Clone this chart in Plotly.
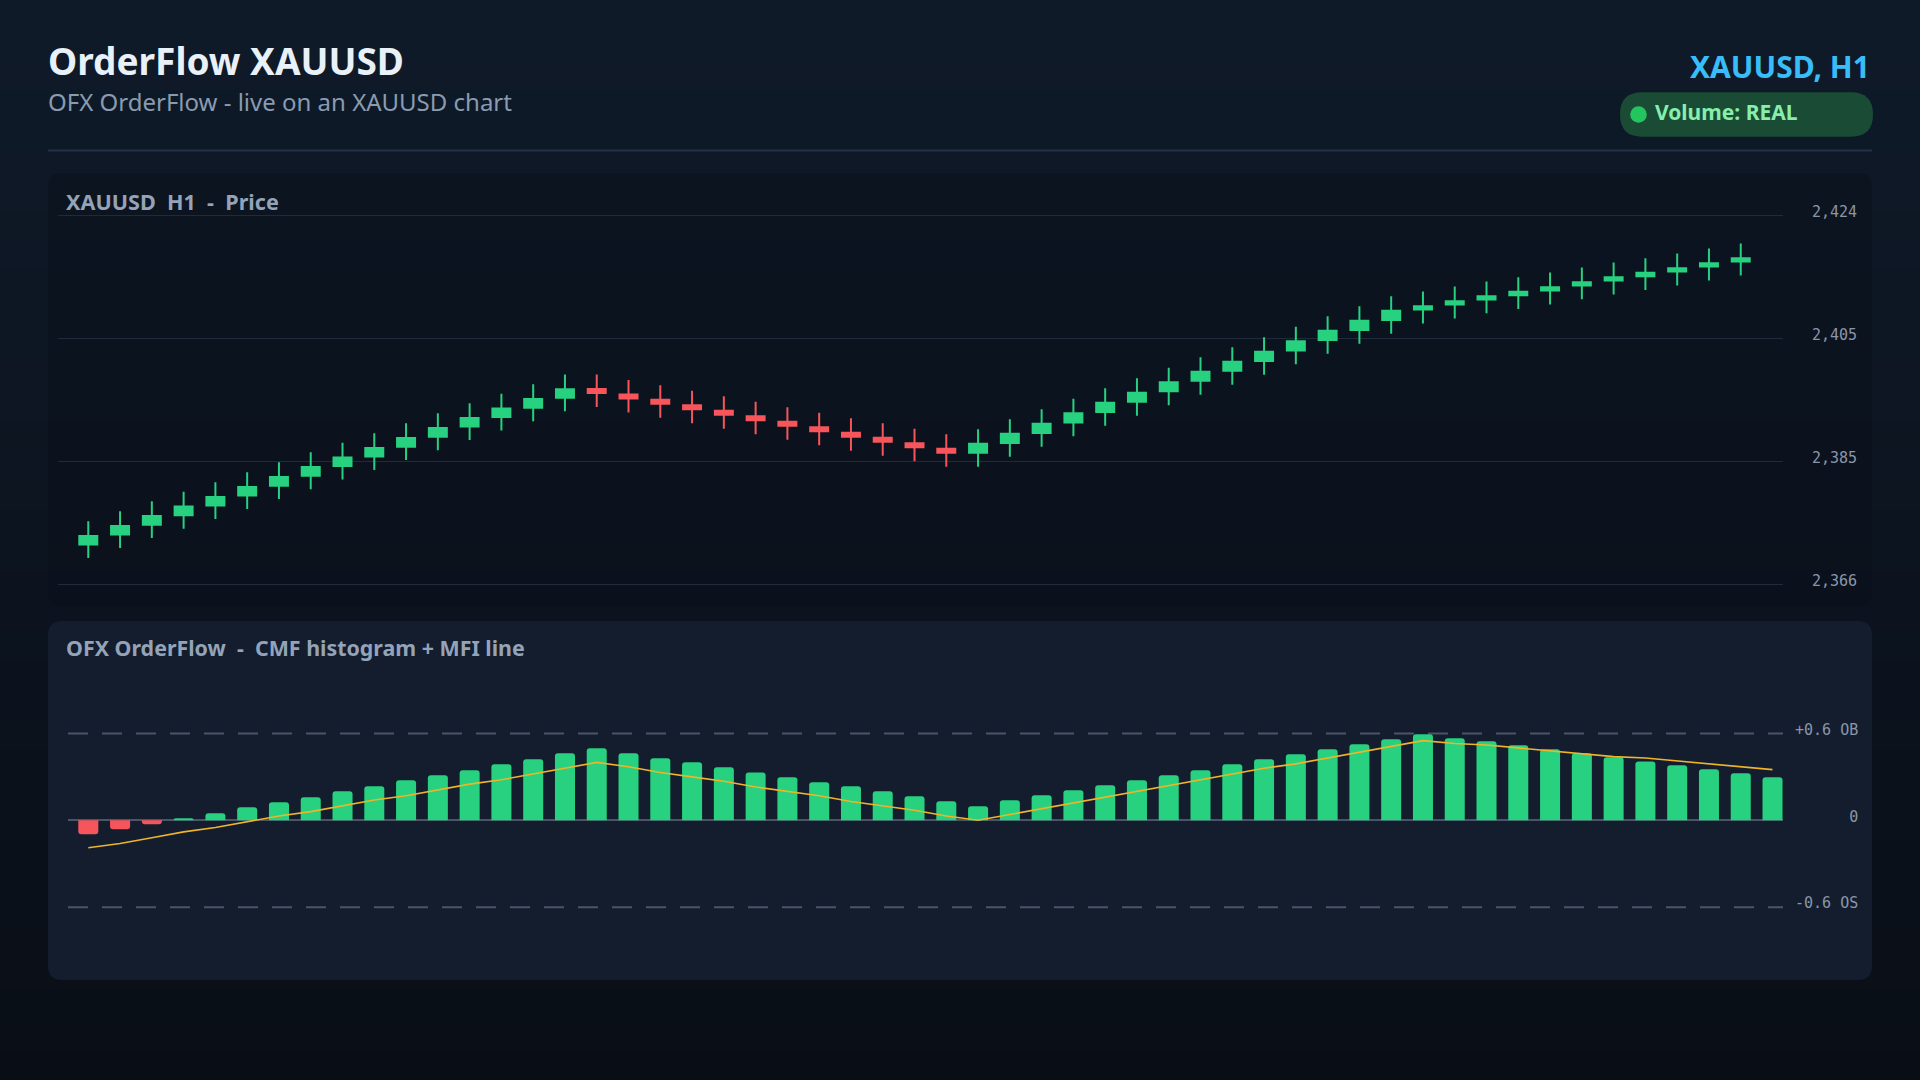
import plotly.graph_objects as go

W, H = 1920, 1080

# ---------------- data ----------------
slots = list(range(1, 55))          # 54 bar slots (histogram)
candle_x = list(range(1, 54))       # 53 candles

opens = [2372.30, 2373.87, 2375.44, 2376.93, 2378.43, 2380.00, 2381.57, 2383.14, 2384.64, 2386.13,
         2387.70, 2389.27, 2390.85, 2392.34, 2393.83, 2395.37,
         2396.76, 2395.89, 2395.06, 2394.19, 2393.33, 2392.46, 2391.60, 2390.74, 2389.87, 2389.09,
         2388.22, 2387.36,
         2386.72, 2388.29, 2389.86, 2391.51, 2393.16, 2394.74, 2396.39, 2398.04, 2399.61, 2401.18,
         2402.83, 2404.48, 2406.05, 2407.62,
         2409.26, 2410.05, 2410.84, 2411.51, 2412.25, 2413.04, 2413.82, 2414.50, 2415.24, 2416.02, 2416.81]
closes = [2373.66, 2375.23, 2376.80, 2378.29, 2379.79, 2381.36, 2382.93, 2384.50, 2386.00, 2387.49,
          2389.06, 2390.63, 2392.21, 2393.70, 2395.19, 2396.73,
          2396.14, 2395.27, 2394.44, 2393.57, 2392.71, 2391.84, 2390.98, 2390.12, 2389.25, 2388.47,
          2387.60, 2386.74,
          2388.16, 2389.73, 2391.30, 2392.95, 2394.60, 2396.18, 2397.83, 2399.48, 2401.05, 2402.62,
          2404.27, 2405.92, 2407.49, 2409.06,
          2409.78, 2410.57, 2411.36, 2412.03, 2412.77, 2413.56, 2414.34, 2415.02, 2415.76, 2416.54, 2417.33]
highs = [2375.98, 2377.55, 2379.12, 2380.61, 2382.11, 2383.68, 2385.25, 2386.82, 2388.32, 2389.81,
         2391.38, 2392.95, 2394.53, 2396.02, 2397.51, 2399.05,
         2399.05, 2398.18, 2397.35, 2396.48, 2395.62, 2394.75, 2393.89, 2393.03, 2392.16, 2391.38,
         2390.51, 2389.65,
         2390.44, 2392.01, 2393.58, 2395.23, 2396.88, 2398.46, 2400.11, 2401.76, 2403.33, 2404.90,
         2406.55, 2408.20, 2409.77, 2411.34,
         2412.07, 2412.86, 2413.65, 2414.32, 2415.06, 2415.85, 2416.63, 2417.31, 2418.05, 2418.83, 2419.62]
lows = [2370.18, 2371.75, 2373.32, 2374.81, 2376.31, 2377.88, 2379.45, 2381.02, 2382.52, 2384.01,
        2385.58, 2387.15, 2388.73, 2390.22, 2391.71, 2393.25,
        2393.95, 2393.08, 2392.25, 2391.38, 2390.52, 2389.65, 2388.79, 2387.93, 2387.06, 2386.28,
        2385.41, 2384.55,
        2384.54, 2386.11, 2387.68, 2389.33, 2390.98, 2392.56, 2394.21, 2395.86, 2397.43, 2399.00,
        2400.65, 2402.30, 2403.87, 2405.44,
        2407.07, 2407.86, 2408.65, 2409.32, 2410.06, 2410.85, 2411.63, 2412.31, 2413.05, 2413.83, 2414.62]

cmf = [-0.097, -0.062, -0.028, 0.014, 0.048, 0.090, 0.124, 0.159, 0.200, 0.235,
       0.276, 0.311, 0.345, 0.387, 0.421, 0.463, 0.497, 0.463, 0.428, 0.401,
       0.366, 0.331, 0.297, 0.262, 0.235, 0.200, 0.166, 0.131, 0.097, 0.138,
       0.173, 0.207, 0.242, 0.276, 0.311, 0.345, 0.387, 0.421, 0.456, 0.490,
       0.525, 0.559, 0.594, 0.566, 0.546, 0.518, 0.490, 0.463, 0.435, 0.407,
       0.380, 0.352, 0.325, 0.297]

mfi = [-0.19, -0.16, -0.12, -0.08, -0.05, -0.01, 0.03, 0.06, 0.10, 0.14,
       0.17, 0.21, 0.25, 0.28, 0.32, 0.36, 0.40, 0.37, 0.33, 0.30,
       0.27, 0.23, 0.20, 0.17, 0.13, 0.10, 0.07, 0.03, 0.00, 0.04,
       0.08, 0.12, 0.16, 0.20, 0.24, 0.28, 0.32, 0.36, 0.39, 0.43,
       0.47, 0.51, 0.55, 0.53, 0.52, 0.50, 0.48, 0.46, 0.44, 0.43,
       0.41, 0.39, 0.37, 0.35]

price_tickvals = [2366, 2385.333, 2404.667, 2424]
price_ticktext = ["2,366", "2,385", "2,405", "2,424"]
osc_tickvals = [-0.6, 0, 0.6]
osc_ticktext = ["-0.6 OS", "\u00a0" * 6 + "0", "+0.6 OB"]
osc_levels = [0.6, -0.6]

title_text = "OrderFlow XAUUSD"
subtitle_text = "OFX OrderFlow - live on an XAUUSD chart"
symbol_text = "XAUUSD, H1"
badge_text = "Volume: REAL"
price_panel_title = "XAUUSD\u00a0 H1\u00a0 -\u00a0 Price"
osc_panel_title = "OFX OrderFlow\u00a0 -\u00a0 CMF histogram + MFI line"

# ---------------- styles ----------------
GREEN = "#27d17f"
RED = "#f6565b"
AMBER = "#f0b429"
SANS = "Noto Sans"
MONO = "DejaVu Sans Mono"


def px(x):
    return x / W


def py(y):
    return 1 - y / H


def rrect_path(x0, y0, x1, y1, r):
    rx, ry = r / W, r / H
    X0, X1 = px(x0), px(x1)
    Y0, Y1 = py(y0), py(y1)  # Y0 top, Y1 bottom (paper)
    return (f"M {X0+rx},{Y0} L {X1-rx},{Y0} Q {X1},{Y0} {X1},{Y0-ry} "
            f"L {X1},{Y1+ry} Q {X1},{Y1} {X1-rx},{Y1} L {X0+rx},{Y1} "
            f"Q {X0},{Y1} {X0},{Y1+ry} L {X0},{Y0-ry} Q {X0},{Y0} {X0+rx},{Y0} Z")


def lerp_color(c0, c1, t):
    a = [int(c0[i:i + 2], 16) for i in (1, 3, 5)]
    b = [int(c1[i:i + 2], 16) for i in (1, 3, 5)]
    return "#" + "".join(f"{round(a[k] + (b[k] - a[k]) * t):02x}" for k in range(3))


shapes = []
# background gradient bands
NB = 36
for i in range(NB):
    y0 = H * i / NB
    y1 = H * (i + 1) / NB + 1
    shapes.append(dict(type="rect", xref="paper", yref="paper", x0=0, x1=1,
                       y0=py(y1), y1=py(y0), line=dict(width=0),
                       fillcolor=lerp_color("#0f1a29", "#090e16", i / (NB - 1)), layer="below"))
# price panel
shapes.append(dict(type="path", xref="paper", yref="paper", path=rrect_path(48, 173, 1872, 606, 14),
                   fillcolor="rgba(9,15,24,0.40)", line=dict(width=0), layer="below"))
# oscillator panel
shapes.append(dict(type="path", xref="paper", yref="paper", path=rrect_path(48, 621, 1872, 980, 14),
                   fillcolor="#131d2d", line=dict(width=0), layer="below"))
# header divider
shapes.append(dict(type="line", xref="paper", yref="paper", x0=px(48), x1=px(1872),
                   y0=py(150.6), y1=py(150.6), line=dict(color="#243247", width=2)))
# badge
shapes.append(dict(type="path", xref="paper", yref="paper", path=rrect_path(1620, 92.3, 1873, 136.7, 22.2),
                   fillcolor="#1a4c35", line=dict(width=0)))
shapes.append(dict(type="circle", xref="paper", yref="paper",
                   x0=px(1630.2), x1=px(1646.8), y0=py(122.8), y1=py(106.2),
                   fillcolor="#22c55e", line=dict(width=0)))
# OB / OS dashed levels
for lv in osc_levels:
    shapes.append(dict(type="line", xref="x2 domain", yref="y2", x0=0, x1=1, y0=lv, y1=lv,
                       line=dict(color="#4a5568", width=2, dash="20px,14px"), layer="below"))

annotations = [
    dict(text=f"<b>{title_text}</b>", x=px(46), y=py(60), xref="paper", yref="paper",
         xanchor="left", yanchor="middle", showarrow=False,
         font=dict(family=SANS, size=37, color="#e8f0f8")),
    dict(text=subtitle_text, x=px(46), y=py(101), xref="paper", yref="paper",
         xanchor="left", yanchor="middle", showarrow=False,
         font=dict(family=SANS, size=24, color="#8a9bb0")),
    dict(text=f"<b>{symbol_text}</b>", x=px(1872), y=py(67), xref="paper", yref="paper",
         xanchor="right", yanchor="middle", showarrow=False,
         font=dict(family=SANS, size=30, color="#38bdf8")),
    dict(text=f"<b>{badge_text}</b>", x=px(1653), y=py(112), xref="paper", yref="paper",
         xanchor="left", yanchor="middle", showarrow=False,
         font=dict(family=SANS, size=21, color="#86efac")),
    dict(text=f"<b>{price_panel_title}</b>", x=px(64), y=py(202), xref="paper", yref="paper",
         xanchor="left", yanchor="middle", showarrow=False,
         font=dict(family=SANS, size=21.6, color="#94a3b8")),
    dict(text=f"<b>{osc_panel_title}</b>", x=px(64), y=py(647), xref="paper", yref="paper",
         xanchor="left", yanchor="middle", showarrow=False,
         font=dict(family=SANS, size=21.4, color="#94a3b8")),
]

fig = go.Figure()
fig.add_trace(go.Candlestick(
    x=candle_x, open=opens, high=highs, low=lows, close=closes,
    xaxis="x", yaxis="y", whiskerwidth=0, hoverinfo="skip",
    increasing=dict(line=dict(color=GREEN, width=2), fillcolor=GREEN),
    decreasing=dict(line=dict(color=RED, width=2), fillcolor=RED),
    showlegend=False,
))
fig.add_trace(go.Bar(
    x=slots, y=cmf, xaxis="x2", yaxis="y2", width=0.63,
    marker=dict(color=[GREEN if v >= 0 else RED for v in cmf], line=dict(width=0)),
    hoverinfo="skip", showlegend=False,
))
fig.add_trace(go.Scatter(
    x=slots, y=mfi, xaxis="x2", yaxis="y2", mode="lines",
    line=dict(color=AMBER, width=1.6), hoverinfo="skip", showlegend=False,
))

fig.update_layout(
    width=W, height=H, autosize=False,
    margin=dict(l=0, r=0, t=0, b=0, pad=0),
    paper_bgcolor="#0c1522", plot_bgcolor="rgba(0,0,0,0)",
    showlegend=False, boxgap=0.434, boxgroupgap=0, barcornerradius=3,
    shapes=shapes, annotations=annotations,
    xaxis=dict(domain=[px(58), px(1783)], range=[0.047, 54.33], visible=False,
               rangeslider=dict(visible=False), fixedrange=True),
    yaxis=dict(domain=[py(597.4), py(203.0)], range=[2364, 2426], side="right",
               tickvals=price_tickvals, ticktext=price_ticktext, ticks="",
               showgrid=True, gridcolor="#1f2a3a", gridwidth=1, zeroline=False, showline=False,
               ticklabelstandoff=28, ticklabelshift=-4,
               tickfont=dict(family=MONO, size=15, color="#8b96a8"), fixedrange=True),
    xaxis2=dict(domain=[px(68), px(1783)], range=[0.361, 54.33], visible=False,
                anchor="y2", fixedrange=True),
    yaxis2=dict(domain=[py(950.6), py(690.0)], range=[-0.9, 0.9], side="right", anchor="x2",
                tickvals=osc_tickvals, ticktext=osc_ticktext, ticks="",
                showgrid=False, zeroline=True, zerolinecolor="#4a5568", zerolinewidth=1.5,
                showline=False, ticklabelstandoff=11, ticklabelshift=-4,
                tickfont=dict(family=MONO, size=15, color="#8b96a8"), fixedrange=True),
)

fig.write_html("out.html", config={"displayModeBar": False},
               post_script="document.body.style.margin='0';document.body.style.background='#0c1522';")
